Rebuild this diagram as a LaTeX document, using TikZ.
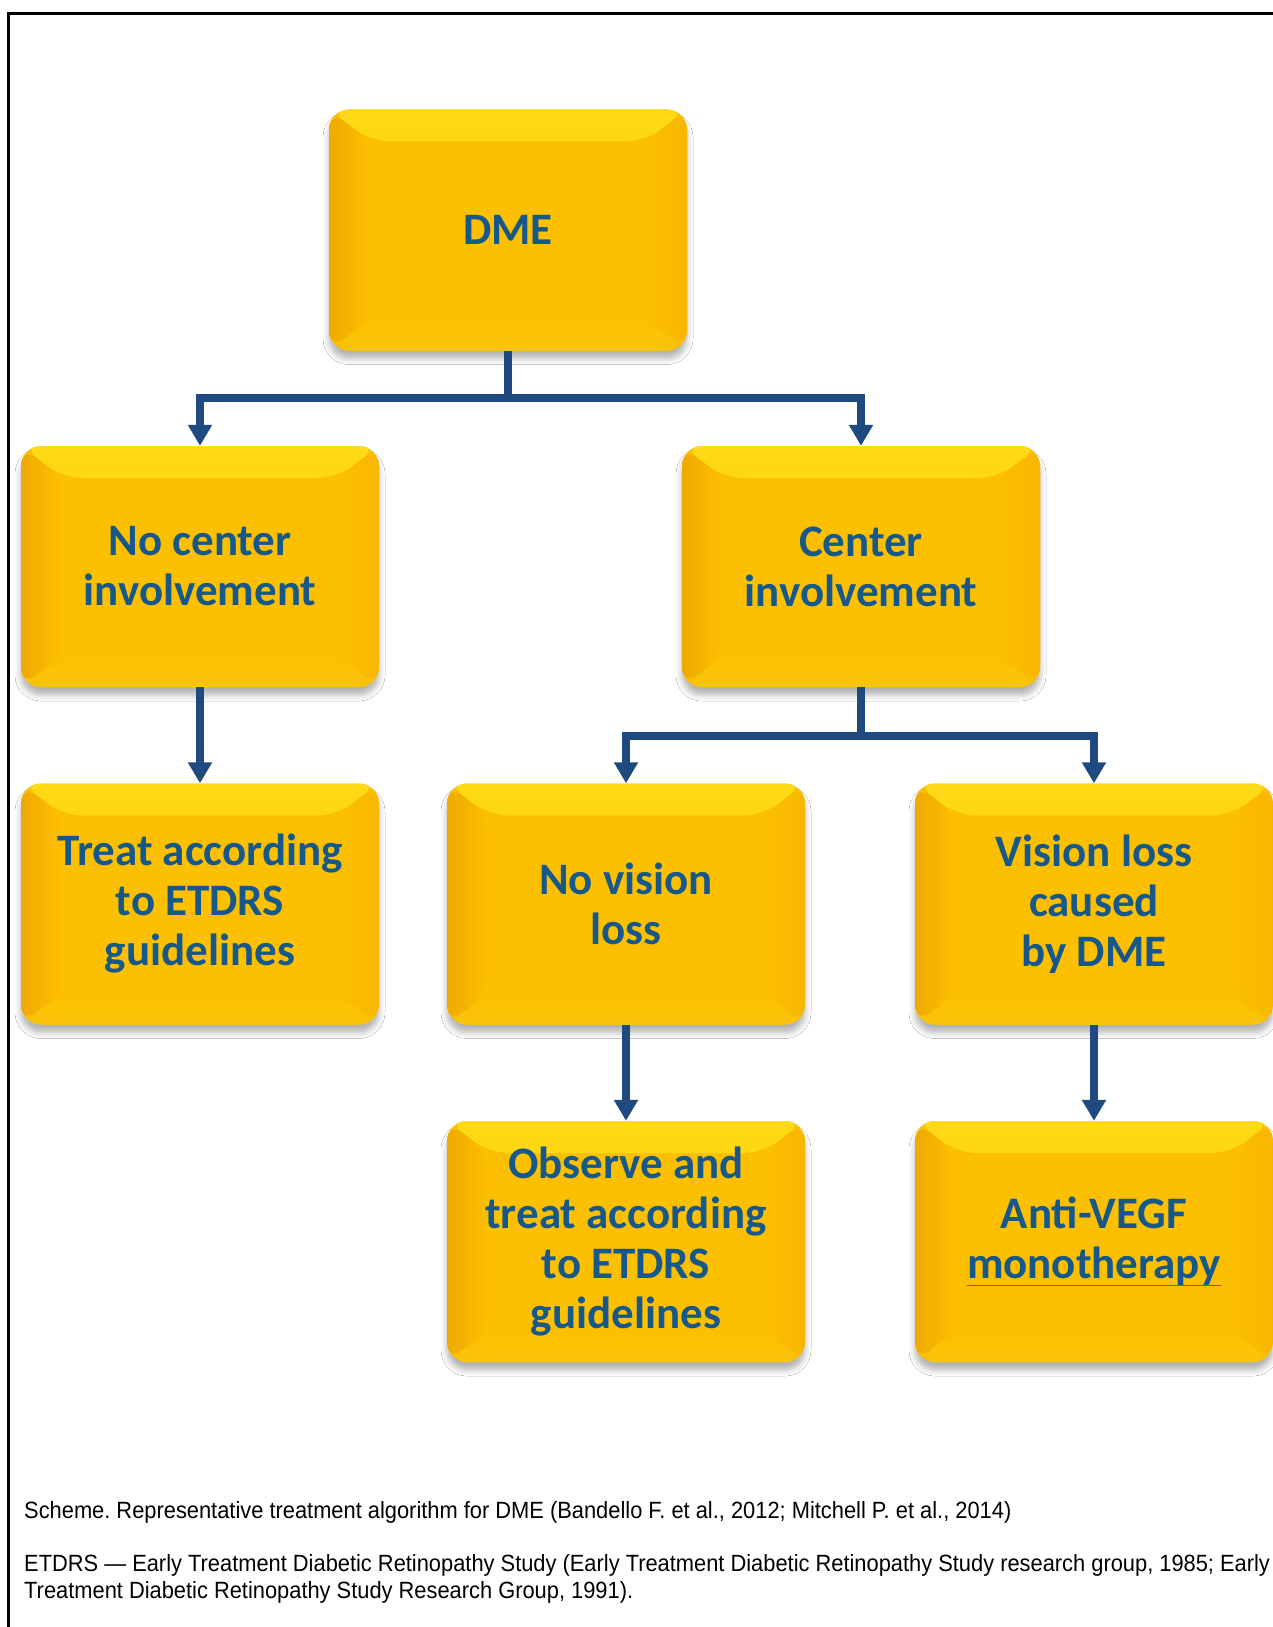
\documentclass[tikz,border=0pt]{standalone}
\usepackage{fontspec}
\usetikzlibrary{arrows.meta,shadows.blur}
\newfontfamily\boxfont{Carlito}
\newfontfamily\capfont{Liberation Sans}[FakeStretch=0.93]
\frenchspacing
\definecolor{gmain}{RGB}{253,192,0}
\definecolor{gtop}{RGB}{255,218,22}
\definecolor{gleft}{RGB}{238,170,0}
\definecolor{gright}{RGB}{247,182,0}
\definecolor{gbot}{RGB}{250,196,10}
\definecolor{tblue}{RGB}{22,88,138}
\definecolor{cblue}{RGB}{31,74,128}
\definecolor{ulred}{RGB}{225,55,35}
\newsavebox\ulbox
\newcommand\redul[1]{\sbox\ulbox{#1}\rlap{\color{ulred}\rule[-8pt]{\wd\ulbox}{1.8pt}}\usebox\ulbox}
\tikzset{
  gbox/.style={rectangle, rounded corners=20pt, minimum width=358pt, minimum height=241pt,
    fill=gmain, text=tblue, align=center, inner sep=0pt,
    font=\boxfont\bfseries\fontsize{45}{50}\selectfont,
    blur shadow={shadow xshift=0pt, shadow yshift=-8pt, shadow blur radius=6pt, shadow opacity=30},
    path picture={
      \shade[top color=gtop, bottom color=gmain]
        (path picture bounding box.north west) -- (path picture bounding box.north east)
        -- ([xshift=-42pt,yshift=-32pt]path picture bounding box.north east)
        -- ([xshift=42pt,yshift=-32pt]path picture bounding box.north west) -- cycle;
      \shade[left color=gleft, right color=gmain]
        (path picture bounding box.north west) -- ([xshift=42pt,yshift=-32pt]path picture bounding box.north west)
        -- ([xshift=42pt,yshift=32pt]path picture bounding box.south west)
        -- (path picture bounding box.south west) -- cycle;
      \shade[right color=gright, left color=gmain]
        (path picture bounding box.north east) -- ([xshift=-42pt,yshift=-32pt]path picture bounding box.north east)
        -- ([xshift=-42pt,yshift=32pt]path picture bounding box.south east)
        -- (path picture bounding box.south east) -- cycle;
      \shade[bottom color=gbot, top color=gmain]
        (path picture bounding box.south west) -- (path picture bounding box.south east)
        -- ([xshift=-42pt,yshift=32pt]path picture bounding box.south east)
        -- ([xshift=42pt,yshift=32pt]path picture bounding box.south west) -- cycle;
    }},
  conn/.style={draw=cblue, line width=7.5pt, -{Triangle[width=23pt,length=21pt]}},
  stem/.style={draw=cblue, line width=7.5pt},
  captext/.style={inner sep=0pt, anchor=base west, font=\capfont\fontsize{23.5}{27}\selectfont, text=black}
}
\begin{document}
\begin{tikzpicture}[x=1pt,y=-1pt]
\fill[white] (0,0) rectangle (1273,1627);
\useasboundingbox (0,0) rectangle (1273,1627);
% frame
\coordinate (fbl) at (8.7,1627);
\coordinate (ftl) at (8.7,14);
\coordinate (ftr) at (1273,14);
\draw[line width=3pt, line cap=rect] (fbl) -- (ftl) -- (ftr);
% boxes
\node[gbox] (dme) at (508,230) {DME};
\node[gbox] (noc) at (200,566.5) {No center\\involvement};
\node[gbox] (cen) at (861,566.5) {Center\\involvement};
\node[gbox] (treat) at (200,904) {Treat according\\to ETDRS\\guidelines};
\node[gbox] (nov) at (626,904) {No vision\\loss};
\node[gbox] (vl) at (1094,904) {Vision loss\\caused\\by DME};
\node[gbox] (obs) at (626,1241.5) {Observe and\\treat according\\to ETDRS\\guidelines};
\node[gbox] (anti) at (1094,1241.5) {Anti-VEGF\\\redul{monotherapy}};
% connectors
\coordinate (j1) at (508,398);
\coordinate (j2) at (861,736);
\draw[stem] (dme.south) -- (j1);
\draw[conn] (j1) -| (noc.north);
\draw[conn] (j1) -| (cen.north);
\draw[stem] (cen.south) -- (j2);
\draw[conn] (j2) -| (nov.north);
\draw[conn] (j2) -| (vl.north);
\draw[conn] (noc.south) -- (treat.north);
\draw[conn] (nov.south) -- (obs.north);
\draw[conn] (vl.south) -- (anti.north);
% caption
\node[captext] (cap1) at (24,1518) {Scheme. Representative treatment algorithm for DME (Bandello F. et al., 2012; Mitchell P. et al., 2014)};
\node[captext] (cap2) at (24,1571) {ETDRS — Early Treatment Diabetic Retinopathy Study (Early Treatment Diabetic Retinopathy Study research group, 1985; Early};
\node[captext] (cap3) at (24,1598) {Treatment Diabetic Retinopathy Study Research Group, 1991).};
\end{tikzpicture}
\end{document}
